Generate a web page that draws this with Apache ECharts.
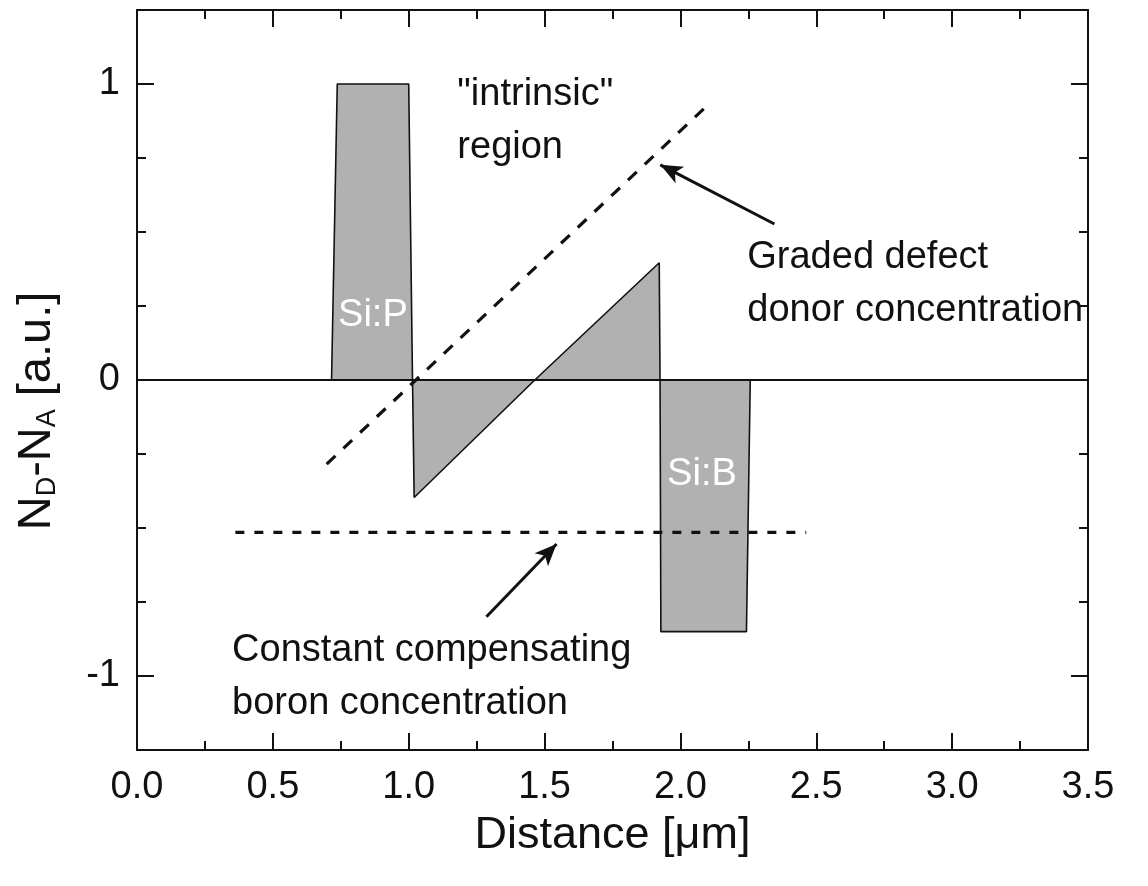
<!DOCTYPE html>
<html><head><meta charset="utf-8">
<script src="https://cdn.jsdelivr.net/npm/echarts@6/dist/echarts.min.js"></script>
<style>html,body{margin:0;padding:0;background:#fff}#c{width:1148px;height:886px}</style>
</head><body><div id="c"></div>
<script>
// ---- data ----
const profileX = [0, 0.716, 0.737, 1.0, 1.014, 1.02, 1.464, 1.922, 1.925, 1.928, 2.243, 2.257, 3.5];
const profileY = [0, 0, 1.0, 1.0, 0, -0.397, 0, 0.396, 0, -0.85, -0.85, 0, 0];
const zeroX = [0, 3.5];
const zeroY = [0, 0];
const gradedX = [0.698, 2.088];
const gradedY = [-0.284, 0.918];
const boronX = [0.362, 2.463];
const boronY = [-0.515, -0.515];
const arrowTailX = [2.346, 1.286];
const arrowTailY = [0.527, -0.80];
const arrowHeadX = [1.926, 1.544];
const arrowHeadY = [0.727, -0.554];
const noteText = ['"intrinsic"\nregion', 'Graded defect\ndonor concentration', 'Constant compensating\nboron concentration'];
const noteX = [1.179, 2.246, 0.35];
const noteY = [0.874, 0.324, -1.005];
const dopText = ['Si:P', 'Si:B'];
const dopX = [0.74, 1.951];
const dopY = [0.219, -0.32];
const xTickLabels = ['0.0', '0.5', '1.0', '1.5', '2.0', '2.5', '3.0', '3.5'];
const yTickValues = [-1, 0, 1];
const yTickLabels = ['-1', '0', '1'];

const FONT = 'Liberation Sans, Arial, Helvetica, sans-serif';
const INK = '#111';
const pts = (xs, ys) => xs.map((x, i) => [x, ys[i]]);

const xBase = (pos, withLabels) => ({
  type: 'value', position: pos, min: 0, max: 3.5, interval: 0.5, gridIndex: 0,
  axisLine: { show: true, onZero: false, lineStyle: { color: INK, width: 2 } },
  axisTick: { show: true, inside: true, length: 17, lineStyle: { color: INK, width: 2 } },
  minorTick: { show: true, splitNumber: 2, length: 9, lineStyle: { color: INK, width: 2 } },
  splitLine: { show: false }, minorSplitLine: { show: false },
  axisLabel: withLabels ? {
    show: true, fontSize: 38, margin: 19, color: INK, fontFamily: FONT,
    formatter: v => xTickLabels[Math.round(v / 0.5)]
  } : { show: false }
});

const yShort = (pos, withLabels) => ({
  type: 'value', position: pos, min: -1.25, max: 1.25, interval: 0.25, gridIndex: 0,
  axisLine: { show: true, onZero: false, lineStyle: { color: INK, width: 2 } },
  axisTick: { show: true, inside: true, length: 9, lineStyle: { color: INK, width: 2 } },
  splitLine: { show: false },
  axisLabel: withLabels ? {
    show: true, fontSize: 38, margin: 17, color: INK, fontFamily: FONT,
    formatter: v => {
      const k = yTickValues.findIndex(t => Math.abs(t - v) < 1e-6);
      return k >= 0 ? yTickLabels[k] : '';
    }
  } : { show: false }
});

const yLong = (pos) => ({
  type: 'value', position: pos, min: -1.25, max: 1.25, interval: 0.25, gridIndex: 0,
  axisLine: { show: false, onZero: false },
  axisTick: { show: true, inside: true, length: 17, customValues: yTickValues, lineStyle: { color: INK, width: 2 } },
  splitLine: { show: false },
  axisLabel: { show: false }
});

const xAxisBottom = xBase('bottom', true);
xAxisBottom.name = 'Distance [μm]';
xAxisBottom.nameLocation = 'middle';
xAxisBottom.nameGap = 63;
xAxisBottom.nameTextStyle = { fontSize: 45, color: INK, fontFamily: FONT };

const yAxisLeft = yShort('left', true);
yAxisLeft.name = '{n|N}{s|D}{n|-N}{s|A}{n| [a.u.]}';
yAxisLeft.nameLocation = 'middle';
yAxisLeft.nameRotate = 90;
yAxisLeft.nameGap = 76;
yAxisLeft.nameTextStyle = {
  color: INK, fontFamily: FONT, padding: [0, 62, 0, 0],
  rich: {
    n: { fontSize: 47, lineHeight: 50, color: INK, fontFamily: FONT, verticalAlign: 'bottom' },
    s: { fontSize: 27, lineHeight: 27, color: INK, fontFamily: FONT, verticalAlign: 'bottom' }
  }
};

const textLabel = (color, extra) => Object.assign({
  show: true, position: 'right', distance: 0, formatter: p => p.data[2],
  fontSize: 38, color: color, opacity: 1, fontFamily: FONT, align: 'left', verticalAlign: 'middle'
}, extra || {});

const option = {
  animation: false,
  backgroundColor: '#fff',
  grid: { left: 137, right: 60, top: 10, bottom: 136, containLabel: false },
  xAxis: [xAxisBottom, xBase('top', false)],
  yAxis: [yAxisLeft, yLong('left'), yShort('right', false), yLong('right')],
  series: [
    {
      name: 'profile', type: 'line', xAxisIndex: 0, yAxisIndex: 0,
      data: pts(profileX, profileY), symbol: 'none', showSymbol: false,
      lineStyle: { color: INK, width: 1.6 },
      areaStyle: { color: '#b1b1b1', opacity: 1, origin: 0 }, z: 2
    },
    {
      name: 'zero', type: 'line', data: pts(zeroX, zeroY), symbol: 'none',
      lineStyle: { color: INK, width: 1.8 }, z: 3
    },
    {
      name: 'graded', type: 'line', data: pts(gradedX, gradedY), symbol: 'none',
      lineStyle: { color: INK, width: 3.2, type: [12, 11] }, z: 4
    },
    {
      name: 'boron', type: 'line', data: pts(boronX, boronY), symbol: 'none',
      lineStyle: { color: INK, width: 3.2, type: [9, 10] }, z: 4
    },
    {
      name: 'arrows', type: 'line', data: [], symbol: 'none',
      markLine: {
        silent: true, animation: false,
        symbol: ['none', 'arrow'], symbolSize: [14, 22],
        lineStyle: { color: INK, width: 3, type: 'solid' },
        label: { show: false },
        data: arrowTailX.map((x, i) => [
          { coord: [x, arrowTailY[i]] },
          { coord: [arrowHeadX[i], arrowHeadY[i]] }
        ])
      }, z: 5
    },
    {
      name: 'notes', type: 'scatter', symbolSize: 0, silent: true,
      itemStyle: { opacity: 1 },
      data: noteX.map((x, i) => [x, noteY[i], noteText[i]]),
      label: textLabel(INK, { lineHeight: 53 }),
      emphasis: { disabled: true }, z: 6
    },
    {
      name: 'dopants', type: 'scatter', symbolSize: 0, silent: true,
      itemStyle: { opacity: 1 },
      data: dopX.map((x, i) => [x, dopY[i], dopText[i]]),
      label: textLabel('#ffffff'),
      emphasis: { disabled: true }, z: 6
    }
  ]
};

const chart = echarts.init(document.getElementById('c'), null, { renderer: 'canvas' });
chart.setOption(option);
</script>
</body></html>
